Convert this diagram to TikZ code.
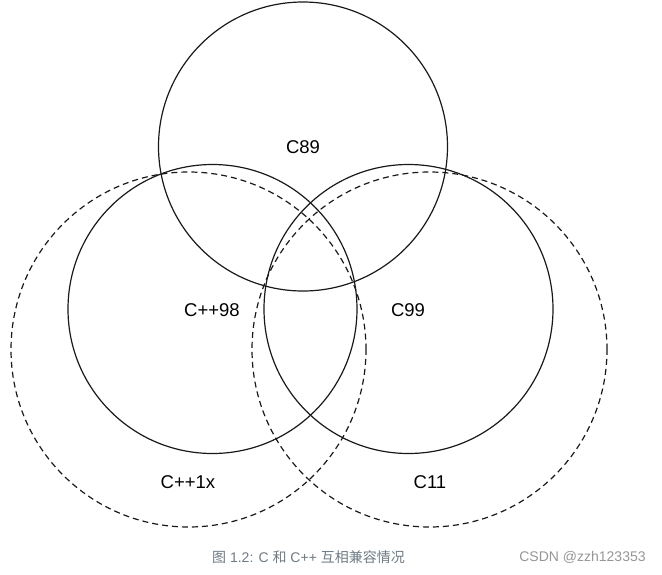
\documentclass[tikz,border=0pt]{standalone}
\usepackage{fontspec}
\setmainfont{Liberation Sans}
\newfontfamily\cjk{Noto Sans CJK SC}
\begin{document}
\begin{tikzpicture}[x=1pt,y=-1pt,
  ring/.style={circle,draw=black!90,line width=1.2pt,inner sep=0pt,minimum size=#1},
  dring/.style={circle,draw=black!90,line width=1.2pt,dash pattern=on 6pt off 4pt,inner sep=0pt,minimum size=#1},
  lbl/.style={font=\fontsize{18.5}{22}\selectfont,text=black}]
\useasboundingbox (0,0) rectangle (662,574);
\node[dring=355pt] (cpp1x) at (188.5,349.5) {};
\node[dring=355pt] (c11) at (429.5,349.5) {};
\node[ring=289pt] (c89) at (303,146.5) {};
\node[ring=289pt] (cpp98) at (212.5,309) {};
\node[ring=289pt] (c99) at (408.5,309) {};
\node[lbl] (l89) at (303,147) {C89};
\node[lbl] (l98) at (212,310) {C++98};
\node[lbl] (l99) at (408,310) {C99};
\node[lbl] (l1x) at (188,482) {C++1x};
\node[lbl] (l11) at (430,482) {C11};
\node[font=\fontsize{14}{16}\selectfont,text={rgb,255:red,110;green,122;blue,132}] (cap) at (308.5,557) {{\cjk 图} 1.2: C {\cjk 和} C++ {\cjk 互相兼容情况}};
\node[font=\fontsize{14}{16}\selectfont,text={rgb,255:red,150;green,150;blue,150}] (wm) at (582.5,557) {CSDN @zzh123353};
\end{tikzpicture}
\end{document}
